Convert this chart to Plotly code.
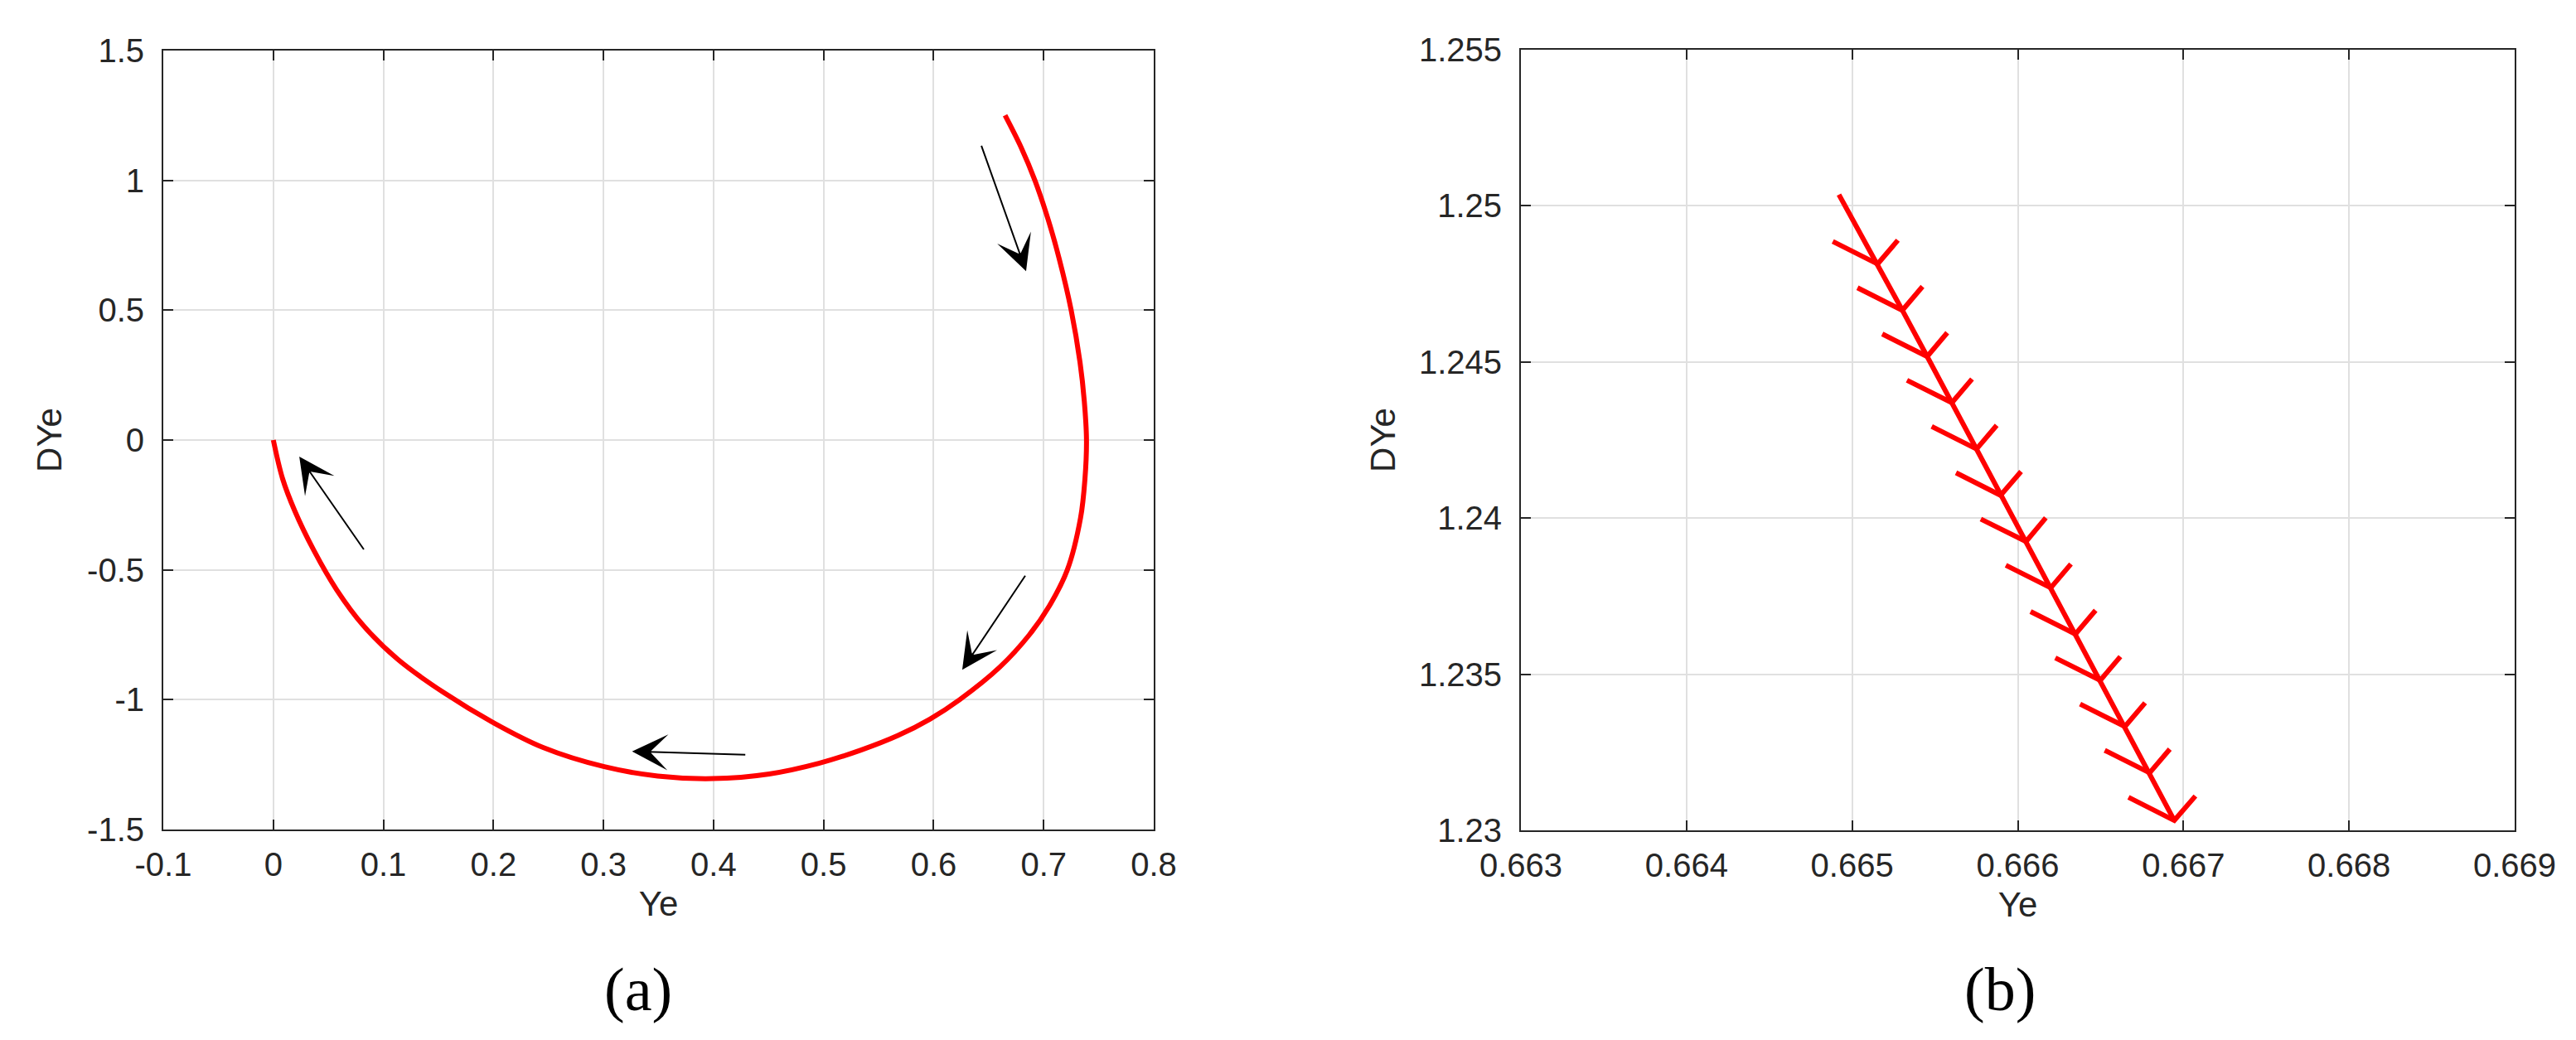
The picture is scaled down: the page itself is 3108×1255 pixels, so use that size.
import plotly.graph_objects as go

# ---------------- data: panel (a) phase trajectory ----------------
traj_a_x = [0.6649, 0.6797, 0.6920, 0.7040, 0.7140, 0.7250, 0.7330, 0.7369, 0.7389,
            0.7375, 0.7335, 0.7215, 0.705, 0.687, 0.660, 0.6236, 0.5966, 0.5676,
            0.5340, 0.4957, 0.4506, 0.3993, 0.3493, 0.3007, 0.2451, 0.1993, 0.1549,
            0.1132, 0.0819, 0.0576, 0.0368, 0.0194, 0.0085, 0.0]
traj_a_y = [1.2504, 1.125, 1.0, 0.85, 0.70, 0.50, 0.30, 0.15, 0.0,
            -0.15, -0.30, -0.50, -0.64, -0.75, -0.875, -1.0, -1.075, -1.138,
            -1.194, -1.245, -1.286, -1.304, -1.294, -1.258, -1.184, -1.087, -0.973,
            -0.845, -0.715, -0.577, -0.425, -0.272, -0.150, 0.0]

# direction arrows (tail -> head) in panel (a)
arrow_tail_x = [0.643, 0.684, 0.430, 0.083]
arrow_tail_y = [1.138, -0.518, -1.212, -0.426]
arrow_head_x = [0.684, 0.626, 0.326, 0.0236]
arrow_head_y = [0.650, -0.885, -1.199, -0.064]

# ---------------- data: panel (b) zoomed start of trajectory ----------------
start_b_x = [0.664920]
start_b_y = [1.250360]
apex_b_x = [0.665154, 0.665303, 0.665453, 0.665602, 0.665751, 0.665896, 0.666050,
            0.666199, 0.666348, 0.666498, 0.666647, 0.666796, 0.666945]
apex_b_y = [1.248138, 1.246656, 1.245175, 1.243693, 1.242212, 1.240730, 1.239249,
            1.237767, 1.236286, 1.234804, 1.233323, 1.231841, 1.230317]

# tick labels
a_xticks = [-0.1, 0, 0.1, 0.2, 0.3, 0.4, 0.5, 0.6, 0.7, 0.8]
a_xlabels = ["-0.1", "0", "0.1", "0.2", "0.3", "0.4", "0.5", "0.6", "0.7", "0.8"]
a_yticks = [-1.5, -1, -0.5, 0, 0.5, 1, 1.5]
a_ylabels = ["-1.5", "-1", "-0.5", "0", "0.5", "1", "1.5"]
b_xticks = [0.663, 0.664, 0.665, 0.666, 0.667, 0.668, 0.669]
b_xlabels = ["0.663", "0.664", "0.665", "0.666", "0.667", "0.668", "0.669"]
b_yticks = [1.23, 1.235, 1.24, 1.245, 1.25, 1.255]
b_ylabels = ["1.23", "1.235", "1.24", "1.245", "1.25", "1.255"]

# ---------------- style ----------------
W, H = 3108, 1255
RED = "#ff0000"
AXC = "#262626"
GRID = "#e0e0e0"
FONT = "Liberation Sans"

fig = go.Figure()

fig.add_trace(go.Scatter(x=traj_a_x, y=traj_a_y, mode="lines",
                         line=dict(color=RED, width=6, shape="spline", smoothing=1.0),
                         xaxis="x", yaxis="y", showlegend=False, hoverinfo="skip"))

# panel (b) main line
bx = start_b_x + apex_b_x
by = start_b_y + apex_b_y
fig.add_trace(go.Scatter(x=bx, y=by, mode="lines", line=dict(color=RED, width=6),
                         xaxis="x2", yaxis="y2", showlegend=False, hoverinfo="skip"))

# chevron heads at each apex (quiver-style head computed in data units)
alpha, beta = 0.5, 0.265
cx, cy = [], []
n = len(apex_b_x)
for i in range(n):
    if i == 0:
        u = apex_b_x[1] - apex_b_x[0]
        v = apex_b_y[1] - apex_b_y[0]
    else:
        u = apex_b_x[i] - apex_b_x[i - 1]
        v = apex_b_y[i] - apex_b_y[i - 1]
    px, py = apex_b_x[i], apex_b_y[i]
    a1x = px - alpha * (u + beta * v)
    a1y = py - alpha * (v - beta * u)
    a2x = px - alpha * (u - beta * v)
    a2y = py - alpha * (v + beta * u)
    cx += [a1x, px, a2x, None]
    cy += [a1y, py, a2y, None]
fig.add_trace(go.Scatter(x=cx, y=cy, mode="lines", line=dict(color=RED, width=6),
                         xaxis="x2", yaxis="y2", showlegend=False, hoverinfo="skip"))

# layout geometry (pixels -> paper)
aL, aR, aT, aB = 189, 1384, 53, 993
bL, bR, bT, bB = 1827, 3026, 52, 994


def ax_common(tickvals, ticktext, rng, title, anchor, domain, is_x, tstand):
    d = dict(range=rng, tickmode="array", tickvals=tickvals, ticktext=ticktext,
             showline=True, linecolor=AXC, linewidth=2, mirror="ticks",
             ticks="inside", ticklen=12, tickwidth=2, tickcolor=AXC,
             showgrid=True, gridcolor=GRID, gridwidth=2, zeroline=False,
             tickfont=dict(family=FONT, size=40, color=AXC),
             title=dict(text=title, font=dict(family=FONT, size=42, color=AXC),
                        standoff=tstand),
             anchor=anchor, domain=domain, automargin=False,
             ticklabelstandoff=6 if is_x else 13)
    return d


fig.update_layout(
    width=W, height=H, autosize=False,
    margin=dict(l=0, r=0, t=0, b=0),
    paper_bgcolor="white", plot_bgcolor="white",
    xaxis=ax_common(a_xticks, a_xlabels, [-0.1, 0.8], "Ye", "y",
                    [aL / W, aR / W], True, 12),
    yaxis=ax_common(a_yticks, a_ylabels, [-1.5, 1.5], "DYe", "x",
                    [1 - aB / H, 1 - aT / H], False, 17),
    xaxis2=ax_common(b_xticks, b_xlabels, [0.663, 0.669], "Ye", "y2",
                     [bL / W, bR / W], True, 12),
    yaxis2=ax_common(b_yticks, b_ylabels, [1.23, 1.255], "DYe", "x2",
                     [1 - bB / H, 1 - bT / H], False, 15),
)

annotations = []
for tx, ty, hx, hy in zip(arrow_tail_x, arrow_tail_y, arrow_head_x, arrow_head_y):
    annotations.append(dict(x=hx, y=hy, ax=tx, ay=ty, xref="x", yref="y",
                            axref="x", ayref="y", text="", showarrow=True,
                            arrowhead=3, arrowsize=3.6, arrowwidth=2,
                            arrowcolor="black", standoff=0))

annotations.append(dict(x=762 / W, y=1 - 1186 / H, xref="paper", yref="paper",
                        text="(a)", showarrow=False, xanchor="center", yanchor="middle",
                        font=dict(family="Liberation Serif", size=74, color="black")))
annotations.append(dict(x=2405 / W, y=1 - 1186 / H, xref="paper", yref="paper",
                        text="(b)", showarrow=False, xanchor="center", yanchor="middle",
                        font=dict(family="Liberation Serif", size=74, color="black")))
fig.update_layout(annotations=annotations)

fig.write_html("out.html")
